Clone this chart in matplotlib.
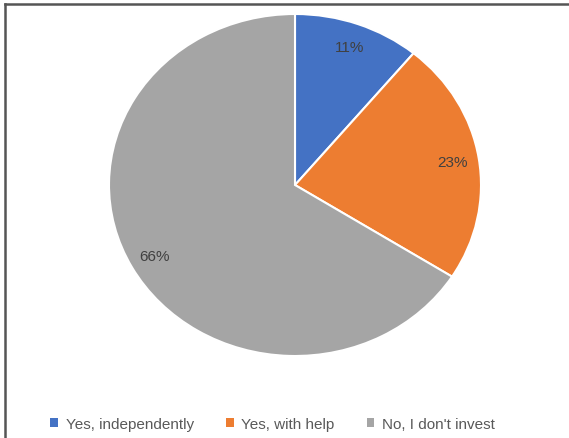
import matplotlib.pyplot as plt
from matplotlib.lines import Line2D
from matplotlib.patches import Patch

labels = ["Yes, independently", "Yes, with help", "No, I don't invest"]
shares = [11, 23, 66]
colors = ["#4472C4", "#ED7D31", "#A5A5A5"]

W, H = 569, 439
fig = plt.figure(figsize=(W / 100, H / 100), dpi=100)
fig.patch.set_facecolor("white")

# pie axes, stretched a little wider than tall
cx, cy, rx, ry = 295, 186, 186, 171
ax = fig.add_axes([(cx - rx) / W, 1 - (cy + ry) / H, 2 * rx / W, 2 * ry / H])
wedges, texts, autotexts = ax.pie(
    shares, colors=colors, startangle=90, counterclock=False,
    autopct=lambda p: f"{p:.0f}%", pctdistance=0.86,
    wedgeprops=dict(edgecolor="white", linewidth=1.5),
    textprops=dict(color="#404040", fontsize=11, family="Liberation Sans"))
ax.set_aspect("auto")
ax.set_xlim(-1, 1)
ax.set_ylim(-1, 1)
ax.axis("off")

handles = [Patch(facecolor=c, edgecolor="none") for c in colors]
fig.legend(handles, labels, loc="center", bbox_to_anchor=(0.479, 1 - 425 / H),
           ncol=3, frameon=False, handlelength=0.5, handleheight=0.5,
           handletextpad=0.5, columnspacing=2.1,
           prop=dict(family="Liberation Sans", size=11), labelcolor="#595959")

# frame line along the top and left edges
x0, y0 = 5 / W, 1 - 5 / H
fig.add_artist(Line2D([x0, 1], [y0, y0], color="#555555", lw=1.8, transform=fig.transFigure))
fig.add_artist(Line2D([x0, x0], [0, y0], color="#555555", lw=1.8, transform=fig.transFigure))

fig.savefig("out.png", dpi=100)
